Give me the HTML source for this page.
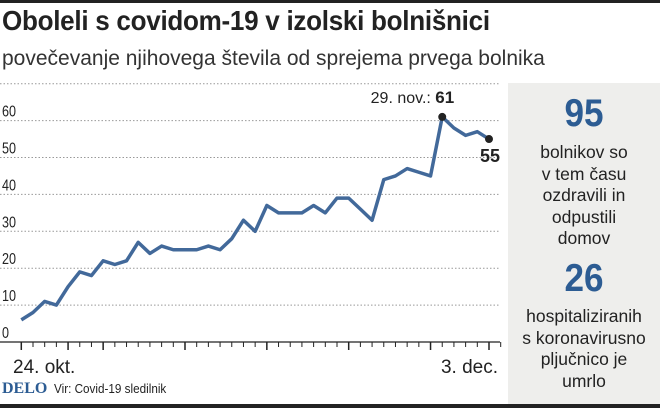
<!DOCTYPE html>
<html><head><meta charset="utf-8"><style>
body{margin:0;width:660px;height:408px;overflow:hidden;background:#fff;font-family:"Liberation Sans",sans-serif;position:relative;color:#222}
.abs{position:absolute}
#title{left:2px;top:5px;font-size:28px;font-weight:bold;letter-spacing:-0.3px;color:#222;white-space:nowrap;transform:scaleX(0.93);transform-origin:left}
#sub{left:2px;top:47px;font-size:21px;color:#333;white-space:nowrap}
#panel{left:508px;top:83px;width:152px;height:321px;background:#eeeeec;text-align:center}
#panel>div{position:absolute;left:0;width:152px}
.big{font-size:39px;font-weight:bold;color:#2c5c93;transform:scaleX(0.9);line-height:39px}
.txt{font-size:17.5px;line-height:21.6px;color:#222}
</style></head><body>
<div class="abs" style="left:0;top:0;width:660px;height:3px;background:#222"></div>
<div class="abs" id="title">Oboleli s covidom-19 v izolski bolnišnici</div>
<div class="abs" id="sub">povečevanje njihovega števila od sprejema prvega bolnika</div>
<div class="abs" id="panel">
 <div class="big" style="top:11px">95</div>
 <div class="txt" style="top:59px">bolnikov so<br>v tem času<br>ozdravili in<br>odpustili<br>domov</div>
 <div class="big" style="top:176px">26</div>
 <div class="txt" style="top:223px">hospitaliziranih<br>s koronavirusno<br>pljučnico je<br>umrlo</div>
</div>
<svg class="abs" style="left:0;top:0" width="508" height="408" id="chart"></svg>
<div class="abs" style="left:2px;top:380px;font-family:'Liberation Serif',serif;font-weight:bold;font-size:16px;color:#2c5c93">DELO</div>
<div class="abs" style="left:54px;top:381px;font-size:13px;color:#222;transform:scaleX(0.9);transform-origin:left">Vir: Covid-19 sledilnik</div>
<div class="abs" style="left:0;top:404px;width:660px;height:4px;background:#222"></div>
<script>
const values=[6,8,11,10,15,19,18,22,21,22,27,24,26,25,25,25,26,25,28,33,30,37,35,35,35,37,35,39,39,36,33,44,45,47,46,45,61,58,56,57,55];
const yTicks=[0,10,20,30,40,50,60,70];
const majorTicks=[0,4,7,14,21,28,35,40];
const startLabel="24. okt.", endLabel="3. dec.";
const peakLabel="29. nov.: ";
const svg=document.getElementById('chart');
const NS='http://www.w3.org/2000/svg';
const data=values;
const n=data.length-1;
const x=i=>21.3+i*(489-21.3)/n;
const y=v=>342-v*3.69;
function mk(t,a){const e=document.createElementNS(NS,t);for(const k in a)e.setAttribute(k,a[k]);svg.appendChild(e);return e;}
yTicks.forEach(v=>{
 const g=mk('line',{x1:0,x2:500,y1:y(v),y2:y(v),stroke:'#999','stroke-dasharray':'1.5,2','stroke-width':1});
 
 
 if(v<70){const t=mk('text',{x:2,y:y(v)-4,'font-size':16,fill:'#222',textLength:v?14:7,lengthAdjust:'spacingAndGlyphs'});t.textContent=v;
 
 }
});
const ax=mk('line',{x1:0,x2:500,y1:342,y2:342,stroke:'#222','stroke-width':1.2});


for(let i=0;i<=n+1;i++){const tk=mk('line',{x1:x(i),x2:x(i),y1:342,y2:majorTicks.includes(i)?350:347,stroke:'#222','stroke-width':majorTicks.includes(i)?1.5:1});
 
 }
const l1=mk('text',{x:13,y:373,'font-size':19,fill:'#222'});l1.textContent=startLabel;


const l2=mk('text',{x:498,y:373,'font-size':19,fill:'#222','text-anchor':'end'});l2.textContent=endLabel;


const line=mk('polyline',{points:data.map((v,i)=>x(i)+','+y(v)).join(' '),fill:'none',stroke:'#42699a','stroke-width':3.5,'stroke-linejoin':'round'});


const pi=data.indexOf(Math.max(...data)), li=data.length-1;
[pi,li].forEach(i=>{const c=mk('circle',{cx:x(i),cy:y(data[i]),r:4,fill:'#222'});
 
 });
const pt=mk('text',{x:x(pi)+12,y:y(data[pi])-14,'font-size':16,fill:'#222','text-anchor':'end'});
pt.innerHTML='<tspan>'+peakLabel+'</tspan><tspan font-weight="bold" font-size="17">'+data[pi]+'</tspan>';


const lt=mk('text',{x:x(li)+11,y:y(data[li])+23,'font-size':18,'font-weight':'bold',fill:'#222','text-anchor':'end'});lt.textContent=data[li];


</script>
</body></html>
